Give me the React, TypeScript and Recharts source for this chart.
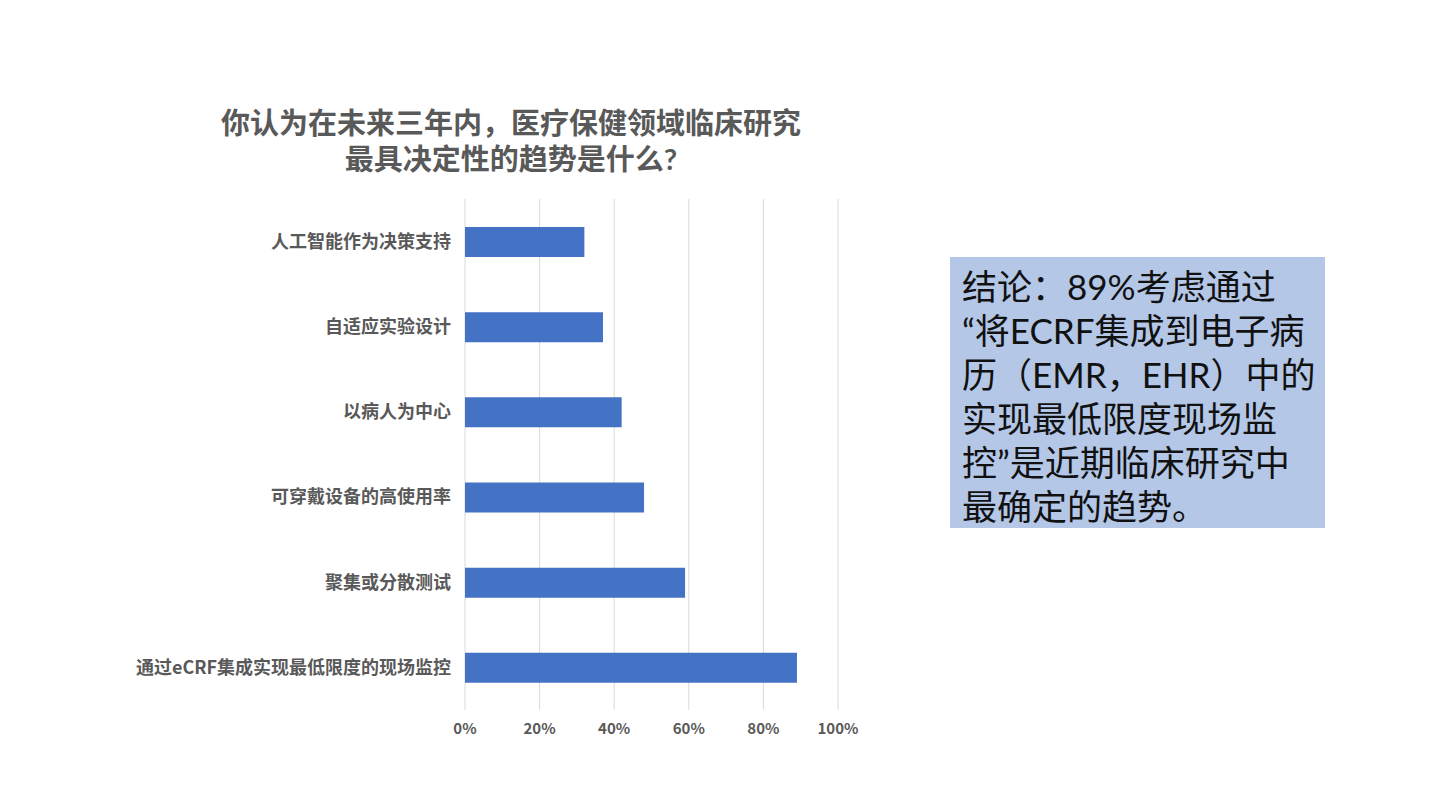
import React from "react";
import { BarChart, Bar, XAxis, YAxis, CartesianGrid } from "recharts";

const categories = [
  "人工智能作为决策支持",
  "自适应实验设计",
  "以病人为中心",
  "可穿戴设备的高使用率",
  "聚集或分散测试",
  "通过eCRF集成实现最低限度的现场监控",
];
const values = [32, 37, 42, 48, 59, 89];
const xTicks = [0, 20, 40, 60, 80, 100];
const titleLines = ["你认为在未来三年内，医疗保健领域临床研究", "最具决定性的趋势是什么?"];
const noteLines = [
  "结论：89%考虑通过",
  "“将ECRF集成到电子病",
  "历（EMR，EHR）中的",
  "实现最低限度现场监",
  "控”是近期临床研究中",
  "最确定的趋势。",
];

const data = categories.map((name, i) => ({ name, value: values[i] }));

const FONT = '"Noto Sans CJK SC", "Noto Sans", sans-serif';
const NOTE_FONT = 'Lato, "Noto Sans CJK SC", sans-serif';

export default function App() {
  return (
    <div
      style={{
        position: "absolute",
        left: 0,
        top: 0,
        width: 1440,
        height: 810,
        background: "#ffffff",
        fontFamily: FONT,
        overflow: "hidden",
      }}
    >
      {titleLines.map((l, i) => (
        <div
          key={i}
          style={{
            position: "absolute",
            left: 161,
            top: 105 + i * 36,
            width: 700,
            height: 36,
            textAlign: "center",
            fontFamily: NOTE_FONT,
            fontSize: 29,
            lineHeight: "36px",
            fontWeight: 700,
            color: "#595959",
            whiteSpace: "nowrap",
          }}
        >
          {l}
        </div>
      ))}
      <div style={{ position: "absolute", left: 0, top: 0 }}>
        <BarChart
          width={900}
          height={760}
          data={data}
          layout="vertical"
          margin={{ top: 199, right: 62, bottom: 20, left: 0 }}
        >
          <CartesianGrid horizontal={false} vertical={true} stroke="#D9D9D9" strokeWidth={1} />
          <XAxis
            type="number"
            domain={[0, 100]}
            ticks={xTicks}
            tickFormatter={(v: number) => `${v}%`}
            axisLine={false}
            tickLine={false}
            tickSize={0}
            tickMargin={13}
            height={30}
            interval={0}
            tick={{ fill: "#595959", fontSize: 15, fontWeight: 700, fontFamily: FONT }}
          />
          <YAxis
            type="category"
            dataKey="name"
            width={465}
            axisLine={false}
            tickLine={false}
            tickSize={0}
            tickMargin={14}
            interval={0}
            tick={{ fill: "#595959", fontSize: 18, fontWeight: 700, fontFamily: FONT }}
          />
          <Bar dataKey="value" fill="#4472C4" barSize={30} isAnimationActive={false} />
        </BarChart>
      </div>
      <div
        style={{
          position: "absolute",
          left: 950,
          top: 257,
          width: 375,
          height: 271,
          background: "#B4C7E7",
        }}
      />
      {noteLines.map((l, i) => (
        <div
          key={i}
          style={{
            position: "absolute",
            left: 962,
            top: 264 + i * 44,
            height: 44,
            fontFamily: NOTE_FONT,
            fontSize: 35,
            lineHeight: "44px",
            color: "#111111",
            whiteSpace: "nowrap",
          }}
        >
          {l}
        </div>
      ))}
    </div>
  );
}
